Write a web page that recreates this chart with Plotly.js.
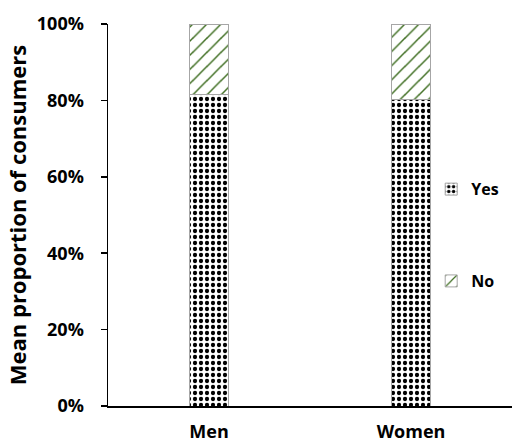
<!DOCTYPE html>
<html>
<head>
<meta charset="utf-8">
<script src="https://cdn.plot.ly/plotly-3.0.1.min.js"></script>
<style>html,body{margin:0;padding:0;background:#fff;}#chart{width:512px;height:445px;}</style>
</head>
<body>
<div id="chart"></div>
<script>
const categories = ["Men", "Women"];
const yesValues = [81.5, 80.3];
const noValues = [18.5, 19.7];
const yTickVals = [0, 20, 40, 60, 80, 100];
const yTickText = ["0%", "20%", "40%", "60%", "80%", "100%"];

const fontFam = "'Open Sans', sans-serif";

const traces = [
  {
    type: "bar", name: "Yes", x: categories, y: yesValues,
    legendgroup: "yes",
    width: 0.19,
    marker: {
      color: "#ffffff",
      line: {color: "#a6a6a6", width: 1},
      pattern: {shape: ".", fgcolor: "#000000", bgcolor: "#ffffff", size: 6, solidity: 0.4}
    },
    hoverinfo: "skip"
  },
  {
    type: "bar", name: "No", x: categories, y: noValues,
    legendgroup: "no",
    width: 0.19,
    marker: {
      color: "#ffffff",
      line: {color: "#a6a6a6", width: 1},
      pattern: {shape: "/", fgcolor: "#3f6e22", bgcolor: "#ffffff", size: 10, solidity: 0.15}
    },
    hoverinfo: "skip"
  }
];

const layout = {
  width: 512, height: 445,
  margin: {l: 108, r: 0, t: 24, b: 39},
  barmode: "stack",
  paper_bgcolor: "#ffffff",
  plot_bgcolor: "#ffffff",
  font: {family: fontFam, color: "#000000"},
  showlegend: true,
  legend: {
    x: 0.80, y: 0.612, xanchor: "left", yanchor: "top",
    traceorder: "grouped", tracegroupgap: 68,
    font: {size: 16, family: fontFam, weight: "bold"},
    itemwidth: 30
  },
  xaxis: {
    type: "category",
    range: [-0.5, 1.5],
    showline: true, linecolor: "#000000", linewidth: 2,
    ticks: "", showgrid: false, zeroline: false,
    tickfont: {size: 18, family: fontFam, weight: "bold"},
    ticklabelstandoff: 8
  },
  yaxis: {
    range: [0, 100],
    tickvals: yTickVals, ticktext: yTickText,
    showline: true, linecolor: "#000000", linewidth: 1.5,
    ticks: "outside", ticklen: 6, tickcolor: "#000000", tickwidth: 1.5,
    showgrid: false, zeroline: false,
    ticklabelstandoff: 13,
    tickfont: {size: 18, family: fontFam, weight: "bold"},
    title: {text: "Mean proportion of consumers", font: {size: 22, family: fontFam, weight: "bold"}, standoff: 4}
  }
};

Plotly.newPlot("chart", traces, layout, {displayModeBar: false, staticPlot: true});
</script>
</body>
</html>
